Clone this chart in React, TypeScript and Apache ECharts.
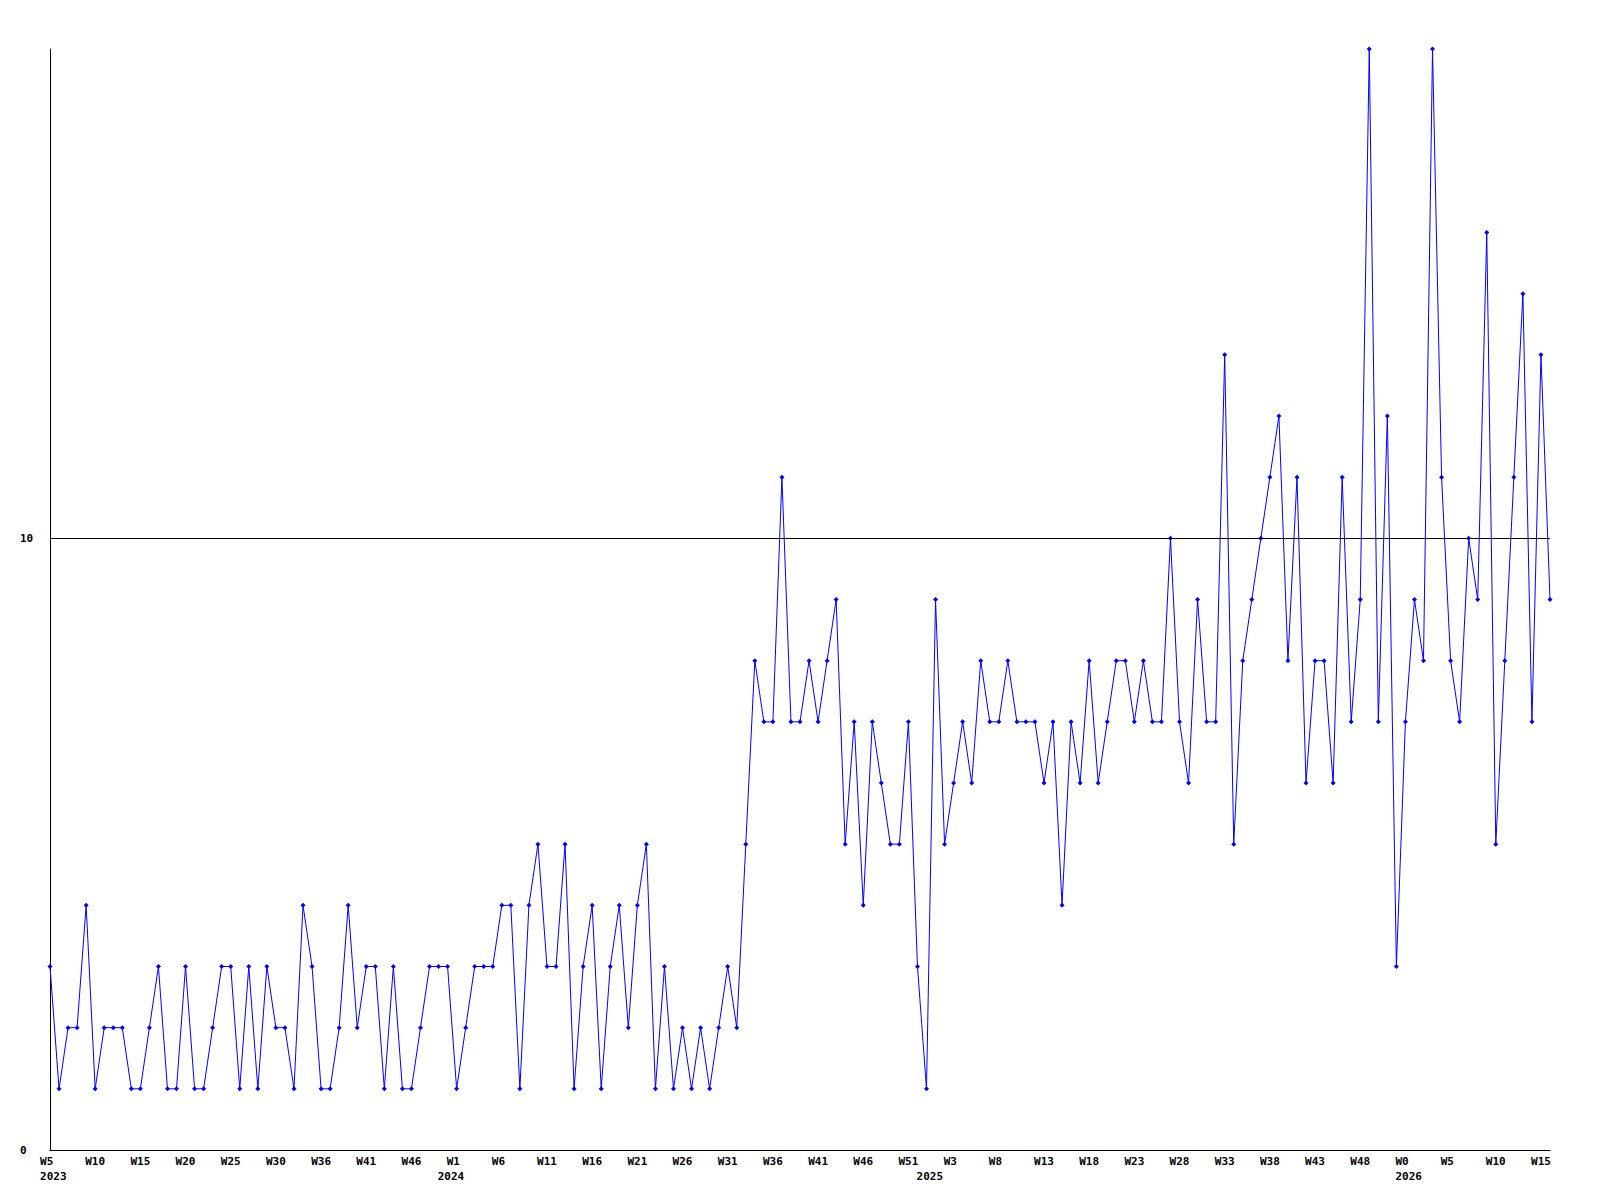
import React, { useEffect, useRef } from 'react';
import * as echarts from 'echarts';

// Weekly values, one per week, starting at 2023 W5
const values: number[] = [
  3, 1, 2, 2, 4, 1, 2, 2, 2, 1, 1, 2, 3, 1, 1, 3, 1, 1, 2, 3, 3, 1, 3,
  1, 3, 2, 2, 1, 4, 3, 1, 1, 2, 4, 2, 3, 3, 1, 3, 1, 1, 2, 3, 3, 3,
  1, 2, 3, 3, 3, 4, 4, 1, 4, 5, 3, 3, 5, 1, 3, 4, 1, 3, 4, 2, 4, 5,
  1, 3, 1, 2, 1, 2, 1, 2, 3, 2, 5, 8, 7, 7, 11, 7, 7, 8, 7, 8, 9, 5,
  7, 4, 7, 6, 5, 5, 7, 3, 1, 9, 5, 6, 7, 6, 8, 7, 7, 8, 7, 7, 7, 6,
  7, 4, 7, 6, 8, 6, 7, 8, 8, 7, 8, 7, 7, 10, 7, 6, 9, 7, 7, 13, 5, 8,
  9, 10, 11, 12, 8, 11, 6, 8, 8, 6, 11, 7, 9, 18, 7, 12, 3, 7, 9, 8, 18, 11, 8,
  7, 10, 9, 15, 5, 8, 11, 14, 7, 13, 9,
];

// Week tick labels, shown every TICK_EVERY weeks
const weekTickLabels: string[] = [
  'W5', 'W10', 'W15', 'W20', 'W25', 'W30', 'W36', 'W41', 'W46',
  'W1', 'W6', 'W11', 'W16', 'W21', 'W26', 'W31', 'W36', 'W41', 'W46', 'W51',
  'W3', 'W8', 'W13', 'W18', 'W23', 'W28', 'W33', 'W38', 'W43', 'W48',
  'W0', 'W5', 'W10', 'W15',
];
const TICK_EVERY = 5;

// Year labels and the week (category index) where each year starts
const yearLabels: string[] = ['2023', '2024', '2025', '2026'];
const yearStartWeek: number[] = [0, 44, 97, 150];

// Y axis
const yMin = 0;
const yMax = 18;
const yInterval = 10;
const referenceLevel = 10;

const NB = '\u00A0';

export default function App() {
  const ref = useRef<HTMLDivElement>(null);

  useEffect(() => {
    if (!ref.current) return;
    const chart = echarts.init(ref.current, null, { renderer: 'svg' });
    const cats = values.map((_, i) => String(i));
    const font = {
      fontFamily: 'DejaVu Sans Mono',
      fontWeight: 'bold' as const,
      fontSize: 11,
      color: '#000',
    };

    chart.setOption({
      animation: false,
      backgroundColor: '#ffffff',
      grid: { left: 50, right: 50, top: 49, bottom: 50, containLabel: false },
      xAxis: [
        {
          type: 'category',
          data: cats,
          boundaryGap: false,
          position: 'bottom',
          axisLine: { show: true, lineStyle: { color: '#000', width: 1 } },
          axisTick: { show: false },
          splitLine: { show: false },
          axisLabel: {
            ...font,
            interval: 0,
            margin: 6,
            hideOverlap: false,
            formatter: (_v: string, i: number) =>
              i % TICK_EVERY === 0 && weekTickLabels[i / TICK_EVERY]
                ? weekTickLabels[i / TICK_EVERY].padEnd(3, NB)
                : '',
          },
        },
        {
          type: 'category',
          data: cats,
          boundaryGap: false,
          position: 'bottom',
          offset: 15,
          axisLine: { show: false },
          axisTick: { show: false },
          splitLine: { show: false },
          axisLabel: {
            ...font,
            interval: 0,
            margin: 6,
            hideOverlap: false,
            formatter: (_v: string, i: number) => {
              const k = yearStartWeek.indexOf(i);
              return k >= 0 ? NB + yearLabels[k] : '';
            },
          },
        },
      ],
      yAxis: {
        type: 'value',
        min: yMin,
        max: yMax,
        interval: yInterval,
        axisLine: { show: true, lineStyle: { color: '#000', width: 1 } },
        axisTick: { show: false },
        splitLine: { show: false },
        axisLabel: {
          ...font,
          align: 'left',
          margin: 30,
          showMaxLabel: false,
        },
      },
      series: [
        {
          type: 'line',
          data: values,
          xAxisIndex: 0,
          symbol: 'diamond',
          symbolSize: 5,
          showSymbol: true,
          showAllSymbol: true,
          clip: false,
          lineStyle: { color: '#0000ff', width: 1 },
          itemStyle: { color: '#0000ff' },
          markLine: {
            silent: true,
            symbol: 'none',
            label: { show: false },
            lineStyle: { color: '#000', width: 1, type: 'solid' },
            data: [{ yAxis: referenceLevel }],
          },
        },
      ],
    });

    return () => chart.dispose();
  }, []);

  return (
    <div
      ref={ref}
      style={{ position: 'absolute', left: 0, top: 0, width: 1600, height: 1200, background: '#fff' }}
    />
  );
}
